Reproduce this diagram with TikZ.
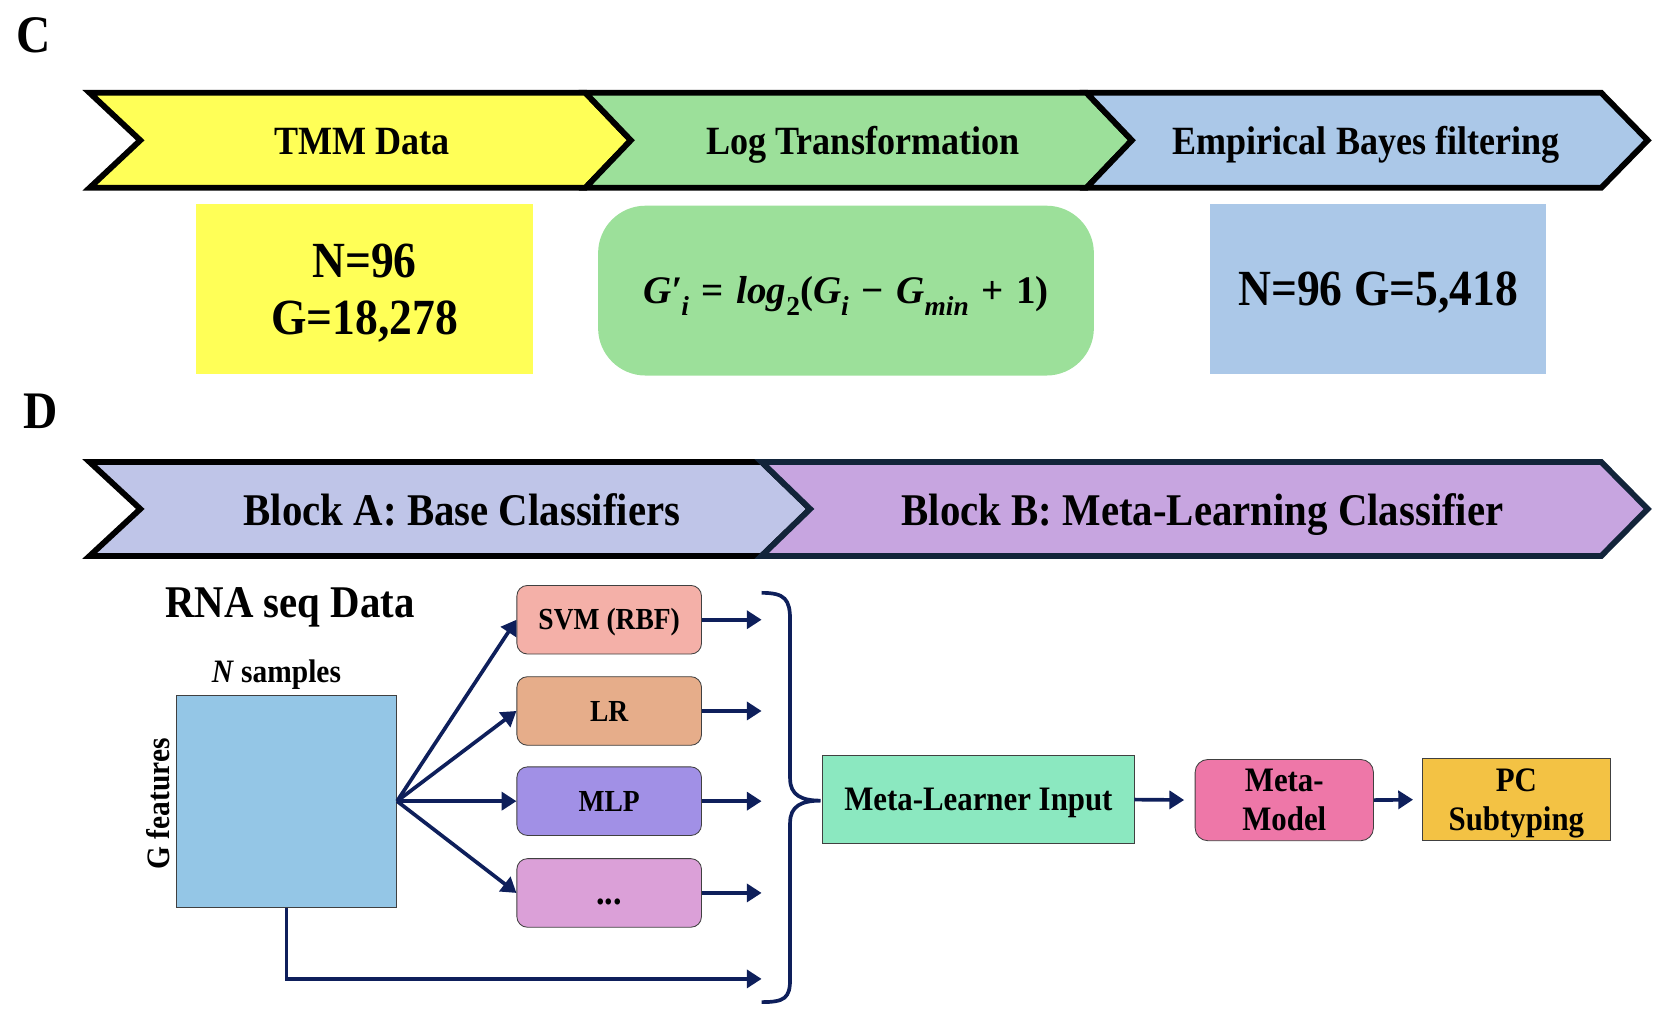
\documentclass[tikz,border=0pt]{standalone}
\usepackage{fontspec}
\setmainfont{Liberation Serif}[FakeStretch=0.9]
\newfontfamily\fmf{Liberation Serif}
\usetikzlibrary{arrows.meta}
\newcommand{\fsz}[2]{\fontsize{#1}{#2}\selectfont}
\definecolor{cyel}{HTML}{FFFF57}
\definecolor{cgrn}{HTML}{9CE09A}
\definecolor{cblu}{HTML}{ABC8E8}
\definecolor{cbla}{HTML}{BFC5E8}
\definecolor{cblb}{HTML}{C7A5E0}
\definecolor{cmat}{HTML}{94C6E6}
\definecolor{csvm}{HTML}{F4B0A8}
\definecolor{clr}{HTML}{E6AD8A}
\definecolor{cmlp}{HTML}{A190E6}
\definecolor{cdot}{HTML}{DBA0D8}
\definecolor{cmli}{HTML}{8BE8C0}
\definecolor{cmm}{HTML}{EE77A8}
\definecolor{cpc}{HTML}{F3C244}
\definecolor{navy}{HTML}{0E1F5B}
\definecolor{bdark}{HTML}{12243A}
\newcommand{\sbi}[1]{\raisebox{-0.3em}{\fsz{26}{26}#1}}
\newcommand{\op}[1]{\kern12pt{\upshape#1}\kern12pt}
\newcommand{\formula}{\fmf\bfseries\itshape G′\kern-1pt\sbi{i}\op{=}log\sbi{\upshape 2}{\upshape(}G\sbi{i}\op{−}G\sbi{min}\op{+}{\upshape 1)}}
\begin{document}
\begin{tikzpicture}[x=1pt,y=-1pt,
  chev/.style={line width=5.5pt, line join=miter, draw=black},
  arr/.style={draw=navy, line width=3.5pt, -{Triangle[length=14pt,width=17pt]}},
  clf/.style={draw=black!75, line width=0.8pt, rounded corners=10pt, minimum width=175pt, minimum height=65pt, font=\bfseries\fsz{29}{33}, inner sep=0pt, text height=19pt, text depth=0pt},
  mbox/.style={draw=black!75, line width=0.8pt, font=\bfseries\fsz{32.5}{37}, align=center, inner sep=0pt, text depth=0pt},
  cbox/.style={inner sep=0pt, font=\bfseries\fsz{48}{54}, align=center, text depth=0pt},
  ctitle/.style={font=\bfseries\fsz{38}{44}, anchor=base},
  dtitle/.style={font=\bfseries\fsz{43}{48}, anchor=base}]
\useasboundingbox (0,0) rectangle (1568,959);
% letters
\node[font=\bfseries\fsz{50}{56}] (lc) at (32,33) {C};
\node[font=\bfseries\fsz{50}{56}] (ld) at (39,390) {D};
% row C chevrons
\draw[chev, fill=cyel] (85,88) -- (555,88) -- (598,133) -- (555,178) -- (85,178) -- (133,133) -- cycle;
\draw[chev, fill=cgrn] (555,88) -- (1030,88) -- (1073,133) -- (1030,178) -- (555,178) -- (598,133) -- cycle;
\draw[chev, fill=cblu] (1030,88) -- (1518,88) -- (1562,133) -- (1518,178) -- (1030,178) -- (1073,133) -- cycle;
\node[ctitle] (t1) at (343,146) {TMM Data};
\node[ctitle] (t2) at (818,146) {Log Transformation};
\node[ctitle] (t3) at (1295,146) {Empirical Bayes filtering};
% row C boxes
\node[cbox, fill=cyel, minimum width=319pt, minimum height=162pt] (yel) at (345.5,274) {N=96\\G=18,278};
\node[inner sep=0pt, fill=cgrn, minimum width=470pt, minimum height=161pt, rounded corners=45pt, font=\fsz{37}{42}, text height=25pt, text depth=0pt] (grn) at (802,275.5) {\formula};
\node[cbox, fill=cblu, minimum width=319pt, minimum height=162pt, text height=32pt] (blu) at (1306.5,274) {N=96 G=5,418};
% row D chevrons
\draw[chev, fill=cbla] (85,438) -- (722,438) -- (768,482.5) -- (722,527) -- (85,527) -- (133,482.5) -- cycle;
\draw[chev, draw=bdark, fill=cblb] (722,438) -- (1518,438) -- (1562,482.5) -- (1518,527) -- (722,527) -- (768,482.5) -- cycle;
\node[dtitle] (ba) at (438,498) {Block A: Base Classifiers};
\node[dtitle] (bb) at (1140,498) {Block B: Meta-Learning Classifier};
% data
\node[font=\bfseries\fsz{43}{48}, anchor=base] (rna) at (275,585) {RNA seq Data};
\node[font=\bfseries\fsz{31}{36}, anchor=base] (ns) at (262,647) {\textit{N} samples};
\node[draw=black!75, line width=0.8pt, fill=cmat, minimum width=209pt, minimum height=201pt, inner sep=0pt] (mat) at (271.5,759.5) {};
\node[font=\bfseries\fsz{31}{36}, rotate=90] (gf) at (150,762) {G features};
% classifiers
\node[clf, fill=csvm] (svm) at (577.5,587.5) {SVM (RBF)};
\node[clf, fill=clr] (lr) at (577.5,674) {LR};
\node[clf, fill=cmlp] (mlp) at (577.5,759.5) {MLP};
\node[clf, fill=cdot, font=\bfseries\fsz{36}{36}, text height=22pt] (dots) at (577.5,846.5) {...};
\draw[arr] (mat.east) -- (svm.west);
\draw[arr] (mat.east) -- (lr.west);
\draw[arr] (mat.east) -- (mlp.west);
\draw[arr] (mat.east) -- (dots.west);
\coordinate (o1) at (722,587.5);
\coordinate (o2) at (722,674);
\coordinate (o3) at (722,759.5);
\coordinate (o4) at (722,846.5);
\coordinate (o5) at (722,928);
\draw[arr] (svm.east) -- (o1);
\draw[arr] (lr.east) -- (o2);
\draw[arr] (mlp.east) -- (o3);
\draw[arr] (dots.east) -- (o4);
\draw[arr] (mat.south) |- (o5);
% brace
\coordinate (btop) at (722,562);
\coordinate (bbot) at (722,950);
\coordinate (tip) at (778,759);
\draw[navy, line width=3.5pt] (btop) .. controls (744,562) and (749,568) .. (749,588) -- (749,738)
  .. controls (749,754) and (760,759) .. (tip)
  .. controls (760,759) and (749,764) .. (749,780) -- (749,928)
  .. controls (749,946) and (744,950) .. (bbot);
% meta
\node[mbox, fill=cmli, minimum width=295pt, minimum height=84pt, text height=21.5pt] (mli) at (927.5,758) {Meta-Learner Input};
\node[mbox, fill=cmm, minimum width=169pt, minimum height=77pt, rounded corners=12pt] (mm) at (1217.5,758.5) {Meta-\\Model};
\node[mbox, fill=cpc, minimum width=179pt, minimum height=78pt] (pc) at (1437.5,758) {PC\\Subtyping};
\draw[arr, shorten >=10pt] (mli.east) -- (mm.west);
\draw[arr, shorten >=8pt] (mm.east) -- (pc.west);
\end{tikzpicture}
\end{document}
